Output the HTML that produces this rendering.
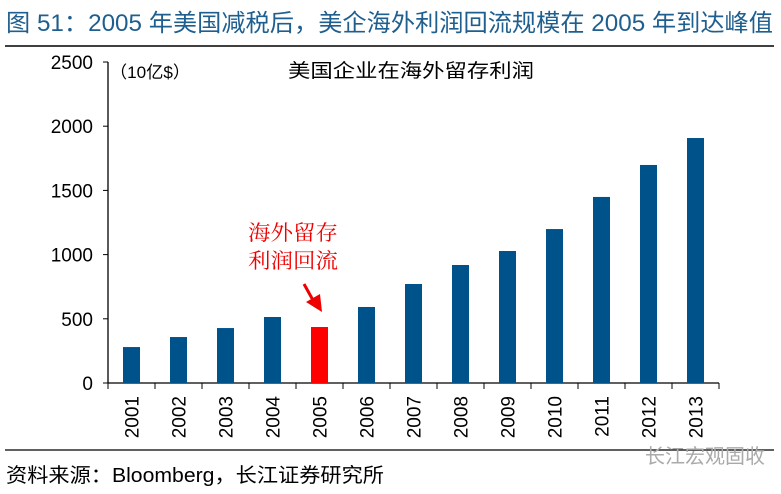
<!DOCTYPE html>
<html><head><meta charset="utf-8"><style>
body{margin:0;width:781px;height:489px;background:#fff;overflow:hidden;font-family:"Liberation Sans","Noto Sans CJK SC",sans-serif}
</style></head><body>
<svg width="781" height="489" xmlns="http://www.w3.org/2000/svg" font-family="Liberation Sans, Noto Sans CJK SC, sans-serif">
<text x="6" y="31" font-size="24" fill="#1f5f8f" textLength="767" lengthAdjust="spacingAndGlyphs">图 51：2005 年美国减税后，美企海外利润回流规模在 2005 年到达峰值</text>
<line x1="5" y1="46" x2="774" y2="46" stroke="#000" stroke-width="1.5"/>
<text x="110" y="78" font-size="17" fill="#000" textLength="80" lengthAdjust="spacingAndGlyphs">（10亿$）</text>
<text x="288" y="77" font-size="19" fill="#000" textLength="246" lengthAdjust="spacingAndGlyphs">美国企业在海外留存利润</text>
<g id="axes"></g>
<g id="bars"></g>
<text x="248" y="240" font-size="21" fill="#e00" textLength="90" lengthAdjust="spacingAndGlyphs" font-family="Liberation Serif, Noto Serif CJK SC, serif">海外留存</text>
<text x="248" y="268" font-size="21" fill="#e00" textLength="90" lengthAdjust="spacingAndGlyphs" font-family="Liberation Serif, Noto Serif CJK SC, serif">利润回流</text>
<line x1="304" y1="284" x2="314" y2="302" stroke="#e00" stroke-width="3"/>
<polygon points="306,302 322,312 320,294" fill="#e00"/>
<line x1="5" y1="450" x2="774" y2="450" stroke="#000" stroke-width="1.2"/>
<text x="645" y="463" font-size="20" fill="#aaa">长江宏观固收</text>
<text x="6" y="482" font-size="20" fill="#000" textLength="378" lengthAdjust="spacingAndGlyphs">资料来源：Bloomberg，长江证券研究所</text>
</svg>
<script>
const categories=["2001","2002","2003","2004","2005","2006","2007","2008","2009","2010","2011","2012","2013"];
const values=[280,358,428,514,436,592,771,919,1028,1199,1449,1698,1908];
const yTicks=[0,500,1000,1500,2000,2500];
const highlight="2005";
const NS="http://www.w3.org/2000/svg";
const x0=108,x1=719,yBase=383,yTop=62,yMax=2500;
const bw=(x1-x0)/categories.length;
const y=v=>yBase-(v/yMax)*(yBase-yTop);
const xc=i=>x0+bw*(i+0.5);
function mk(tag,attrs,parent){const e=document.createElementNS(NS,tag);for(const k in attrs)e.setAttribute(k,attrs[k]);parent.appendChild(e);return e;}
const ax=document.getElementById('axes'),bars=document.getElementById('bars');
let l=mk('line',{x1:x0,y1:yTop,x2:x0,y2:yBase,stroke:'#000','stroke-width':1.3},ax);


l=mk('line',{x1:x0,y1:yBase,x2:x1,y2:yBase,stroke:'#000','stroke-width':1.3},ax);


yTicks.forEach(t=>{
 const tk=mk('line',{x1:x0-5,y1:y(t),x2:x0,y2:y(t),stroke:'#000'},ax);
 
 
 const tx=mk('text',{x:x0-15,y:y(t)+7,'font-size':19,'text-anchor':'end',fill:'#000'},ax);
 tx.textContent=t;
 
 
});
for(let i=0;i<=categories.length;i++){
 const tk=mk('line',{x1:x0+bw*i,y1:yBase,x2:x0+bw*i,y2:yBase+6,stroke:'#000'},ax);
 
 
}
categories.forEach((c,i)=>{
 const v=values[i];
 const r=mk('rect',{x:xc(i)-8.5,y:y(v),width:17,height:yBase-y(v),fill:c===highlight?'#ff0000':'#00538a'},bars);
 
 
 const tx=mk('text',{x:0,y:0,'font-size':19,'text-anchor':'end',fill:'#000',transform:`translate(${xc(i)+7},${yBase+13}) rotate(-90)`},ax);
 tx.textContent=c;
 
 
});
</script>
</body></html>
